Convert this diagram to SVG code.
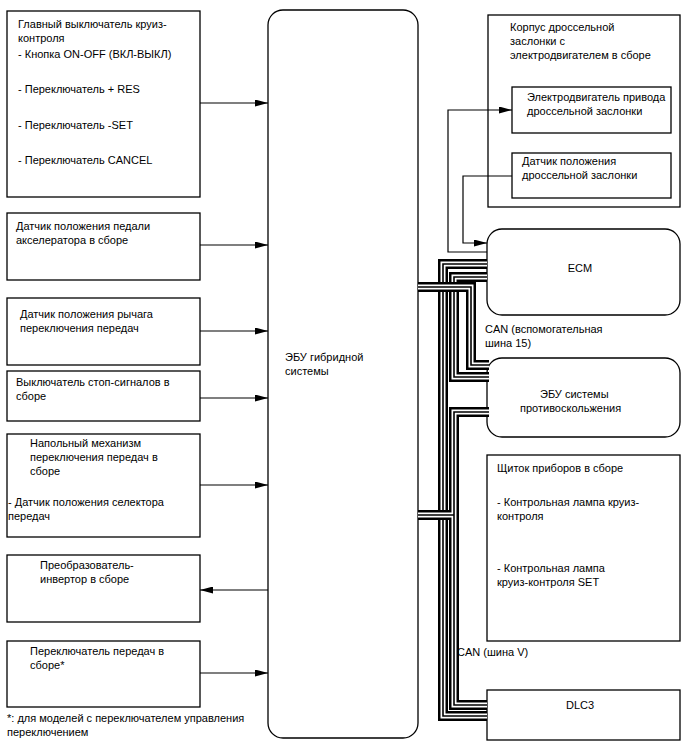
<svg xmlns="http://www.w3.org/2000/svg" width="688" height="755" viewBox="0 0 688 755">
<style>
text{font-family:"Liberation Sans",Arial,sans-serif;font-size:11px;fill:#000}
.box{fill:#fff;stroke:#000;stroke-width:1.3}
.ln{fill:none;stroke:#000;stroke-width:1.2}
.b1{fill:none;stroke:#000;stroke-width:10;stroke-linejoin:miter}
.b2{fill:none;stroke:#fff;stroke-width:5;stroke-linejoin:miter}
.b3{fill:none;stroke:#000;stroke-width:1.6;stroke-linejoin:miter}
</style>
<defs>
<marker id="ah" viewBox="0 0 13 7" refX="13" refY="3.5" markerWidth="13" markerHeight="7" markerUnits="userSpaceOnUse" orient="auto"><path d="M0,0 L13,3.5 L0,7 z" fill="#000"/></marker>
</defs>
<rect width="688" height="755" fill="#fff"/>

<g id="cruise-switch"><rect class="box" x="7" y="11" width="193" height="186"/>
<text x="18" y="28">Главный выключатель круиз-</text><text x="18" y="42">контроля</text>
<text x="18" y="58">- Кнопка ON-OFF (ВКЛ-ВЫКЛ)</text><text x="18" y="93">- Переключатель + RES</text>
<text x="18" y="129">- Переключатель -SET</text><text x="18" y="164">- Переключатель CANCEL</text></g>

<g id="accel-sensor"><rect class="box" x="7" y="213" width="193" height="67"/>
<text x="16" y="230">Датчик положения педали</text><text x="16" y="244">акселератора в сборе</text></g>

<g id="shift-lever-sensor"><rect class="box" x="7" y="298" width="193" height="67"/>
<text x="20" y="318">Датчик положения рычага</text><text x="20" y="332">переключения передач</text></g>

<g id="stop-switch"><rect class="box" x="7" y="371" width="193" height="50"/>
<text x="16" y="386">Выключатель стоп-сигналов в</text><text x="16" y="400">сборе</text></g>

<g id="floor-shift"><rect class="box" x="7" y="434" width="193" height="103"/>
<text x="30" y="447">Напольный механизм</text><text x="30" y="461">переключения передач в</text><text x="30" y="475">сборе</text>
<text x="8" y="506">- Датчик положения селектора</text><text x="8" y="520">передач</text></g>

<g id="inverter"><rect class="box" x="7" y="555" width="193" height="67"/>
<text x="40" y="569">Преобразователь-</text><text x="40" y="583">инвертор в сборе</text></g>

<g id="shift-switch"><rect class="box" x="7" y="641" width="193" height="66"/>
<text x="30" y="655">Переключатель передач в</text><text x="30" y="669">сборе*</text></g>

<g id="footnote"><text x="7" y="722">*: для моделей с переключателем управления</text><text x="7" y="736">переключением</text></g>

<g id="hv-ecu"><rect class="box" x="268" y="10" width="150" height="728" rx="15"/>
<text x="285" y="361">ЭБУ гибридной</text><text x="285" y="375">системы</text></g>

<g id="throttle-body"><rect class="box" x="488" y="15" width="192" height="192"/>
<text x="510" y="31">Корпус дроссельной</text><text x="510" y="45">заслонки с</text><text x="510" y="59">электродвигателем в сборе</text></g>

<g id="throttle-motor"><rect class="box" x="512" y="87" width="159" height="46"/>
<text x="527" y="101">Электродвигатель привода</text><text x="527" y="115">дроссельной заслонки</text></g>

<g id="throttle-sensor"><rect class="box" x="512" y="153" width="159" height="45"/>
<text x="522" y="165">Датчик положения</text><text x="522" y="179">дроссельной заслонки</text></g>

<g id="ecm"><rect class="box" x="487" y="229" width="193" height="86" rx="15"/>
<text x="580" y="272" text-anchor="middle">ECM</text></g>

<g id="skid-ecu"><rect class="box" x="487" y="358" width="193" height="79" rx="15"/>
<text x="540" y="398">ЭБУ системы</text><text x="520" y="412">противоскольжения</text></g>

<g id="meter"><rect class="box" x="487" y="455" width="193" height="186"/>
<text x="497" y="472">Щиток приборов в сборе</text>
<text x="497" y="506">- Контрольная лампа круиз-</text><text x="497" y="520">контроля</text>
<text x="497" y="572">- Контрольная лампа</text><text x="497" y="586">круиз-контроля SET</text></g>

<g id="dlc3"><rect class="box" x="487" y="690" width="193" height="50"/>
<text x="580" y="709" text-anchor="middle">DLC3</text></g>

<g id="connectors">
<path class="ln" d="M200,103 H268" marker-end="url(#ah)"/>
<path class="ln" d="M200,245 H268" marker-end="url(#ah)"/>
<path class="ln" d="M200,331 H268" marker-end="url(#ah)"/>
<path class="ln" d="M200,398 H268" marker-end="url(#ah)"/>
<path class="ln" d="M200,485 H268" marker-end="url(#ah)"/>
<path class="ln" d="M268,590 H200" marker-end="url(#ah)"/>
<path class="ln" d="M200,673 H268" marker-end="url(#ah)"/>
<path class="ln" d="M487,252 H448 V110 H512" marker-end="url(#ah)"/>
<path class="ln" d="M512,176 H463 V243 H487" marker-end="url(#ah)"/>
<g id="bus-a"><path class="b1" d="M487,264 H443 V716 H487"/><path class="b2" d="M487,264 H443 V716 H487"/><path class="b3" d="M487,264 H443 V716 H487"/></g>
<g id="bus-b"><path class="b1" d="M487,277 H454 V377 H489"/><path class="b2" d="M487,277 H454 V377 H489"/><path class="b3" d="M487,277 H454 V377 H489"/></g>
<g id="bus-v"><path class="b1" d="M489,412 H454 V705 H487 M418,515 H454"/><path class="b2" d="M489,412 H454 V705 H487 M418,515 H454"/><path class="b3" d="M489,412 H454 V705 H487 M418,515 H454"/></g>
<g id="bus-c"><path class="b1" d="M418,287 H471 V365 H489"/><path class="b2" d="M418,287 H471 V365 H489"/><path class="b3" d="M418,287 H471 V365 H489"/></g>
<text x="485" y="333">CAN (вспомогательная</text><text x="485" y="347">шина 15)</text>
<text x="457" y="656">CAN (шина V)</text>
</g>
</svg>
